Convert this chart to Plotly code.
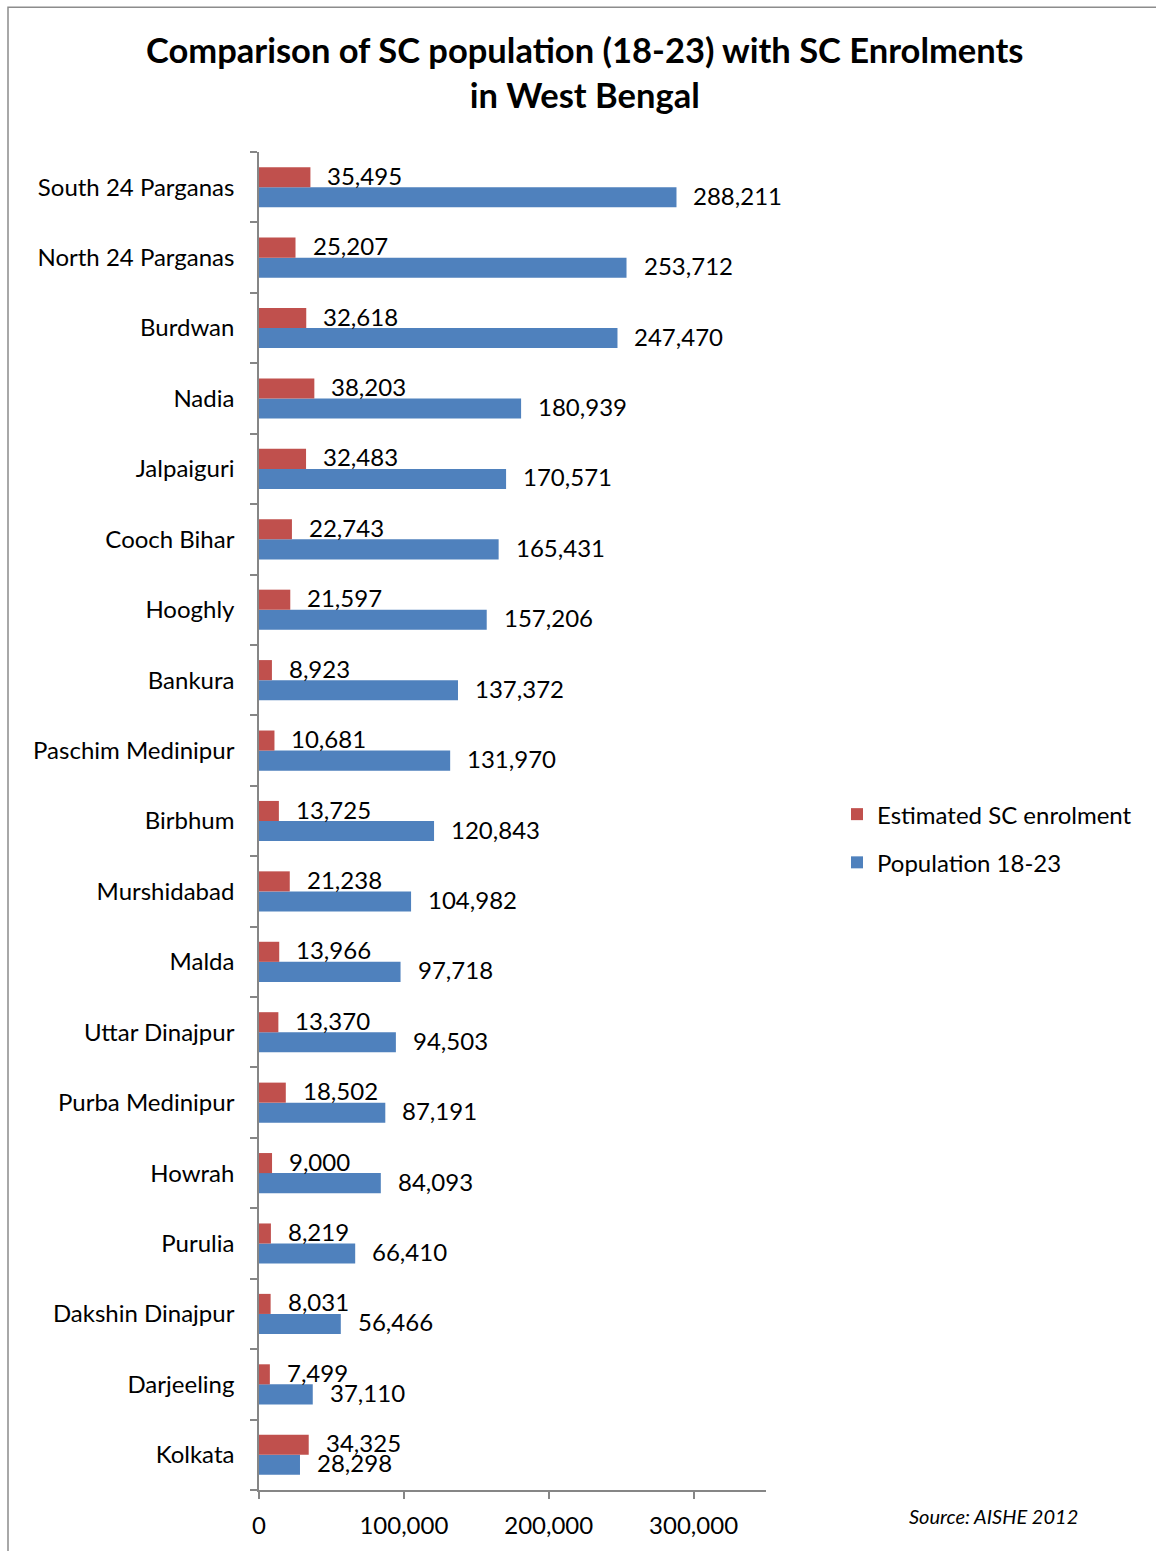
import plotly.graph_objects as go

# Districts listed bottom-to-top so the largest population sits at the top
districts = [
    "Kolkata", "Darjeeling", "Dakshin Dinajpur", "Purulia", "Howrah",
    "Purba Medinipur", "Uttar Dinajpur", "Malda", "Murshidabad", "Birbhum",
    "Paschim Medinipur", "Bankura", "Hooghly", "Cooch Bihar", "Jalpaiguri",
    "Nadia", "Burdwan", "North 24 Parganas", "South 24 Parganas",
]
population_18_23 = [
    28298, 37110, 56466, 66410, 84093,
    87191, 94503, 97718, 104982, 120843,
    131970, 137372, 157206, 165431, 170571,
    180939, 247470, 253712, 288211,
]
sc_enrolment = [
    34325, 7499, 8031, 8219, 9000,
    18502, 13370, 13966, 21238, 13725,
    10681, 8923, 21597, 22743, 32483,
    38203, 32618, 25207, 35495,
]
x_ticks = [0, 100000, 200000, 300000]
x_tick_text = ["0", "100,000", "200,000", "300,000"]

FONT = "Lato, 'Open Sans', sans-serif"
BLUE = "#4F81BD"
RED = "#C0504D"
AXIS = "#868686"
SIZE = 24

fig = go.Figure()
fig.add_trace(go.Bar(
    y=districts, x=population_18_23, orientation="h",
    name="Population 18-23", marker=dict(color=BLUE, line=dict(width=0)),
    legendgroup="pop", legendrank=2,
))
fig.add_trace(go.Bar(
    y=districts, x=sc_enrolment, orientation="h",
    name="Estimated SC enrolment", marker=dict(color=RED, line=dict(width=0)),
    legendgroup="enr", legendrank=1,
))

# value labels just past the end of each bar
annotations = []
for d, v in zip(districts, population_18_23):
    annotations.append(dict(x=v, y=d, text=f"{v:,}", showarrow=False,
                            xanchor="left", yanchor="middle", xshift=15, yshift=-8,
                            font=dict(family=FONT, size=SIZE, color="black")))
for d, v in zip(districts, sc_enrolment):
    annotations.append(dict(x=v, y=d, text=f"{v:,}", showarrow=False,
                            xanchor="left", yanchor="middle", xshift=15, yshift=12,
                            font=dict(family=FONT, size=SIZE, color="black")))

# chart title
annotations.append(dict(
    xref="paper", yref="paper", x=(585 - 259) / 507, y=(1492 - 72) / 1340,
    xanchor="center", yanchor="middle", showarrow=False,
    text="<b>Comparison of SC population (18-23) with SC Enrolments<br>in West Bengal</b>",
    font=dict(family=FONT, size=34.5, color="black"),
))

# source note
annotations.append(dict(xref="paper", yref="paper", x=(1080 - 259) / 507,
                        y=(1492 - 1518) / 1340,
                        xanchor="right", yanchor="middle", showarrow=False,
                        text="<i>Source: AISHE 2012</i>",
                        font=dict(family=FONT, size=20, color="black")))

# outer chart frame
shapes = [dict(type="rect", xref="paper", yref="paper",
               x0=(8 - 259) / 507, x1=(1170 - 259) / 507,
               y0=(1492 - 1570) / 1340, y1=(1492 - 7) / 1340,
               line=dict(color="#8C8C8C", width=1.5), fillcolor="rgba(0,0,0,0)",
               layer="below")]

fig.update_layout(
    width=1156, height=1551,
    margin=dict(l=259, r=390, t=152, b=59),
    paper_bgcolor="white", plot_bgcolor="white",
    barmode="group", bargap=0.43, bargroupgap=0,
    font=dict(family=FONT, size=SIZE, color="black"),
    xaxis=dict(
        range=[0, 350000], tickvals=x_ticks, ticktext=x_tick_text,
        showgrid=False, zeroline=False, showline=True, linecolor=AXIS, linewidth=1.5,
        ticks="outside", ticklen=7, tickcolor=AXIS, tickwidth=1.5,
        tickfont=dict(family=FONT, size=SIZE), ticklabelstandoff=6,
    ),
    yaxis=dict(
        showgrid=False, zeroline=False, showline=True, linecolor=AXIS, linewidth=1.5,
        ticks="outside", ticklen=7, tickcolor=AXIS, tickwidth=1.5,
        tickson="boundaries", tickfont=dict(family=FONT, size=SIZE),
        ticklabelstandoff=18,
    ),
    legend=dict(
        x=(837 - 259) / 507, xanchor="left",
        y=(1492 - 793) / 1340, yanchor="top",
        traceorder="grouped", tracegroupgap=14,
        font=dict(family=FONT, size=SIZE), itemwidth=30,
        bgcolor="rgba(0,0,0,0)",
    ),
    annotations=annotations,
    shapes=shapes,
)

fig.write_html("out.html")
